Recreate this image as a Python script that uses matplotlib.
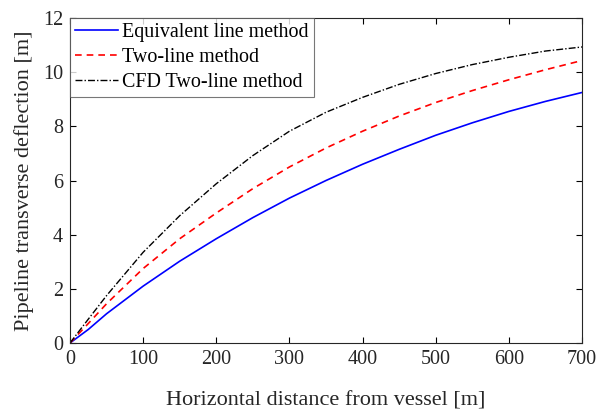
import numpy as np
import matplotlib
matplotlib.use('Agg')
import matplotlib.pyplot as plt

# values
dist = [0, 25, 50, 100, 150, 200, 250, 300, 350, 400, 450, 500, 550, 600, 650, 700]
equiv = [0, 0.5, 1.08, 2.1, 3.02, 3.85, 4.63, 5.35, 6.0, 6.6, 7.15, 7.67, 8.13, 8.55, 8.92, 9.25]
twoline = [0, 0.72, 1.45, 2.75, 3.85, 4.8, 5.7, 6.5, 7.2, 7.82, 8.38, 8.88, 9.32, 9.72, 10.09, 10.43]
cfd = [0, 0.88, 1.75, 3.35, 4.7, 5.88, 6.92, 7.82, 8.52, 9.07, 9.55, 9.95, 10.28, 10.55, 10.78, 10.93]

plt.rcParams['font.family'] = ['Liberation Serif', 'DejaVu Serif']

fig = plt.figure(figsize=(5.97, 4.09), dpi=100)
ax = fig.add_axes([70/597, (409-343)/409, 512/597, 325/409])

ax.plot(dist, equiv, color='#0000ff', lw=1.2, label='Equivalent line method')
ax.plot(dist, twoline, color='#ff0000', lw=1.2, ls=(0, (4, 3)), label='Two-line method')
ax.plot(dist, cfd, color='black', lw=1.0, ls=(0, (5, 1.5, 1, 1.5)), label='CFD Two-line method')

ax.set_xlim(0, 700)
ax.set_ylim(0, 12)
ax.set_xticks(range(0, 701, 100))
ax.set_yticks(range(0, 13, 2))
ax.tick_params(direction='in', top=True, right=True, labelsize=14.5, length=4, width=0.8, pad=5,
               labelcolor='#262626')
for s in ax.spines.values():
    s.set_linewidth(0.8)
    s.set_color('#262626')

ax.set_xlabel('Horizontal distance from vessel [m]', fontsize=16, labelpad=16, color='#262626')
ax.set_ylabel('Pipeline transverse deflection [m]', fontsize=16, labelpad=6, color='#262626')

leg = ax.legend(loc='upper left', borderaxespad=0, fontsize=14.4, frameon=True, fancybox=False,
                handlelength=2.15, handletextpad=0.2, labelspacing=0.3, borderpad=0.25)
leg.get_frame().set_edgecolor('#555555')
leg.get_frame().set_linewidth(0.8)

fig.savefig('out.png', dpi=100)
